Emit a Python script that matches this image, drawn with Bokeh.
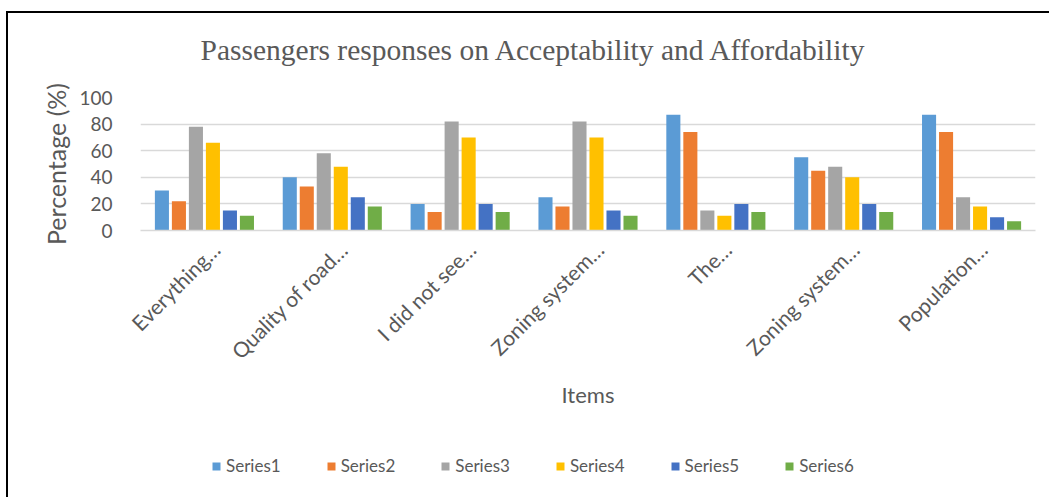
from math import pi
from bokeh.plotting import figure
from bokeh.layouts import column
from bokeh.models import ColumnDataSource, Range1d, FixedTicker, Title
from bokeh.transform import dodge
from bokeh.embed import file_html
from bokeh.resources import INLINE

# ---- data ----
items = ["Everything…", "Quality of road…", "I did not see…", "Zoning system…",
         "The…", "Zoning system…", "Population…"]
series_names = ["Series1", "Series2", "Series3", "Series4", "Series5", "Series6"]
series1 = [30, 40, 20, 25, 87, 55, 87]
series2 = [22, 33, 14, 18, 74, 45, 74]
series3 = [78, 58, 82, 82, 15, 48, 25]
series4 = [66, 48, 70, 70, 11, 40, 18]
series5 = [15, 25, 20, 15, 20, 20, 10]
series6 = [11, 18, 14, 11, 14, 14, 7]
y_ticks = [0, 20, 40, 60, 80, 100]
colors = ["#5B9BD5", "#ED7D31", "#A5A5A5", "#FFC000", "#4472C4", "#70AD47"]

all_series = [series1, series2, series3, series4, series5, series6]
positions = list(range(len(items)))
src = ColumnDataSource(dict(x=positions, **{n: v for n, v in zip(series_names, all_series)}))

FONT = "Lato"
GREY = "#595959"

p = figure(width=1043, height=420,
           x_range=Range1d(-0.5, len(items) - 0.5), y_range=Range1d(0, 100),
           output_backend="svg", toolbar_location=None,
           min_border_left=132, min_border_right=16, min_border_top=84, min_border_bottom=203)

step = 0.133
bw = 0.11
for i, (name, col) in enumerate(zip(series_names, colors)):
    p.vbar(x=dodge("x", (i - 2.5) * step), top=name, width=bw, source=src,
           fill_color=col, line_color=None)

# title (spacer keeps it away from the frame)
spacer = Title(text=" ", text_font_size="1px", standoff=27)
p.add_layout(spacer, "above")
p.title.text = "Passengers responses on Acceptability and Affordability"
p.title.text_font = "Liberation Serif"
p.title.text_font_size = "29.5px"
p.title.text_font_style = "normal"
p.title.text_color = GREY
p.title.align = "left"
p.title.offset = 60
p.title.standoff = 4

p.outline_line_color = None
p.background_fill_color = "white"
p.border_fill_color = "white"

# axes
tick_shift = 0.09
p.xaxis.ticker = FixedTicker(ticks=[i + tick_shift for i in positions])
p.xaxis.major_label_overrides = {i + tick_shift: lab for i, lab in enumerate(items)}
p.xaxis.major_label_orientation = pi / 4
p.xaxis.major_label_text_font = FONT
p.xaxis.major_label_text_font_size = "21px"
p.xaxis.major_label_text_color = GREY
p.xaxis.major_tick_line_color = None
p.xaxis.minor_tick_line_color = None
p.xaxis.axis_line_color = "#D9D9D9"
p.xaxis.axis_line_width = 1.5
p.xaxis.major_label_standoff = 9
p.xaxis.axis_label = "Items"
p.xaxis.axis_label_text_font = FONT
p.xaxis.axis_label_text_font_size = "22px"
p.xaxis.axis_label_text_font_style = "normal"
p.xaxis.axis_label_text_color = GREY
p.xaxis.axis_label_standoff = 6

p.yaxis.ticker = FixedTicker(ticks=y_ticks)
p.yaxis.major_label_text_font = FONT
p.yaxis.major_label_text_font_size = "19px"
p.yaxis.major_label_text_color = GREY
p.yaxis.major_tick_line_color = None
p.yaxis.minor_tick_line_color = None
p.yaxis.axis_line_color = None
p.yaxis.major_label_standoff = 22
p.yaxis.axis_label = "Percentage (%)"
p.yaxis.axis_label_text_font = FONT
p.yaxis.axis_label_text_font_size = "25px"
p.yaxis.axis_label_text_font_style = "normal"
p.yaxis.axis_label_text_color = GREY
p.yaxis.axis_label_standoff = 5

p.xgrid.grid_line_color = None
p.ygrid.grid_line_color = "#D9D9D9"
p.ygrid.grid_line_width = 1.5

# legend strip (separate canvas under the chart; its bars fall outside its view)
p2 = figure(width=1043, height=66, x_range=p.x_range, y_range=Range1d(1000, 1001),
            output_backend="svg", toolbar_location=None,
            x_axis_location=None, y_axis_location=None,
            min_border_left=0, min_border_right=0, min_border_top=0, min_border_bottom=0)
p2.grid.visible = False
p2.outline_line_color = None
p2.background_fill_color = "white"
p2.border_fill_color = "white"
for i, (name, col) in enumerate(zip(series_names, colors)):
    p2.vbar(x=dodge("x", (i - 2.5) * step), top=name, width=bw, source=src,
            fill_color=col, line_color=None, legend_label=name)

lg = p2.legend[0]
lg.orientation = "horizontal"
lg.location = (71, 23)
lg.glyph_width = 10
lg.glyph_height = 10
lg.label_standoff = 5
lg.spacing = 45
lg.padding = 0
lg.margin = 0
lg.border_line_color = None
lg.background_fill_alpha = 0
lg.label_text_font = FONT
lg.label_text_font_size = "17px"
lg.label_text_color = GREY

layout = column(p, p2, spacing=0,
                styles={"margin-left": "8px", "margin-top": "13px",
                        "box-shadow": "-2px -2px 0px 0px black"})

open("out.html", "w").write(file_html(layout, INLINE))
